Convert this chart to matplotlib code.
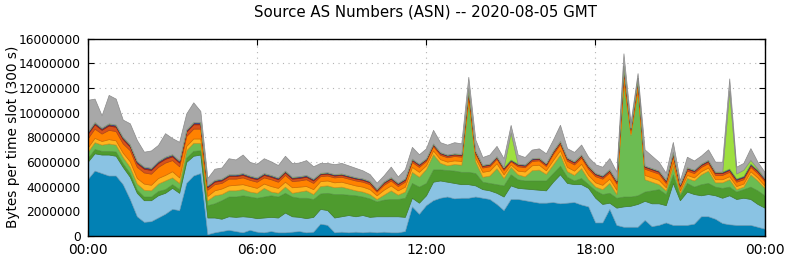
import matplotlib.pyplot as plt
from matplotlib.colors import to_rgb

# 15 minute samples, 00:00 .. 24:00 (hours)
hours = [i / 4 for i in range(97)]

# layer thickness per slot, in millions of bytes, bottom -> top
dark_blue = [4.6, 5.3, 5.1, 4.9, 4.9, 4.2, 3.0, 1.6, 1.15, 1.2, 1.5, 1.8, 2.2, 2.1, 4.3, 4.9, 5.1,
             0.15, 0.3, 0.4, 0.5, 0.4, 0.3, 0.5, 0.35, 0.3, 0.4, 0.3, 0.3, 0.35, 0.4, 0.3, 0.35,
             1.0, 0.9, 0.3, 0.35, 0.3, 0.35, 0.3, 0.35, 0.3, 0.35, 0.3, 0.3, 0.4, 2.4, 1.8,
             2.5, 2.9, 3.1, 3.2, 3.05, 3.1, 3.1, 3.2, 3.1, 3.0, 2.6, 2.1, 3.0, 3.0, 2.9, 2.8, 2.7, 2.7,
             2.75, 2.65, 2.7, 2.75, 2.55, 2.4, 1.1, 1.1, 2.2, 0.9, 0.75, 0.75, 0.75, 1.3, 0.8, 0.9,
             1.1, 0.9, 0.9, 0.9, 1.0, 1.6, 1.6, 1.4, 1.05, 0.95, 0.9, 0.9, 0.9, 0.75, 0.6]
light_blue = [1.4, 1.4, 1.5, 1.7, 1.6, 1.4, 1.8, 1.9, 1.75, 1.7, 1.8, 1.7, 1.7, 1.4, 1.7, 1.6, 1.5,
              1.35, 1.2, 1.0, 1.1, 1.15, 1.3, 1.05, 1.1, 1.2, 1.15, 1.2, 1.6, 1.25, 1.15, 1.15, 1.2,
              1.2, 1.2, 1.2, 1.25, 1.4, 1.25, 1.4, 1.2, 1.3, 1.25, 1.3, 1.3, 1.15, 0.7, 0.9,
              0.8, 1.5, 1.4, 1.2, 1.25, 1.1, 1.1, 0.9, 0.7, 0.7, 0.9, 1.1, 1.1, 0.9, 0.95, 1.0, 1.05, 1.0,
              1.65, 2.35, 1.6, 1.45, 1.65, 1.5, 2.0, 1.5, 0.5, 1.4, 1.65, 1.7, 1.85, 1.55, 1.85, 1.75,
              1.4, 3.4, 2.0, 2.7, 2.4, 1.7, 1.8, 1.9, 2.05, 2.35, 2.1, 2.2, 2.1, 1.85, 1.7]
dark_green = [0.3, 0.35, 0.3, 0.3, 0.35, 0.3, 0.3, 0.25, 0.3, 0.3, 0.35, 0.3, 0.3, 0.3, 0.35, 0.4, 0.35,
              1.0, 1.15, 1.5, 1.6, 1.65, 1.7, 1.65, 1.65, 1.7, 1.75, 1.7, 1.6, 1.6, 1.55, 1.65, 1.45,
              1.25, 1.4, 1.9, 1.8, 1.65, 1.7, 1.5, 1.5, 1.2, 1.35, 1.4, 1.4, 1.55, 1.2, 1.3,
              1.0, 1.0, 0.9, 0.95, 1.0, 1.0, 1.0, 1.0, 0.6, 0.6, 0.7, 0.9, 0.9, 0.7, 0.65, 0.7, 0.75, 0.8,
              0.7, 0.7, 0.5, 0.3, 0.5, 0.3, 0.6, 0.8, 0.8, 0.8, 0.8, 0.75, 0.7, 0.75, 1.05, 1.15,
              0.9, 0.7, 0.4, 0.7, 0.6, 0.9, 0.9, 0.7, 0.8, 0.7, 0.6, 0.7, 1.0, 1.1, 1.0]
mid_green = [0.5, 0.55, 0.5, 0.6, 0.55, 0.5, 0.5, 0.5, 0.55, 0.5, 0.6, 0.7, 0.55, 0.5, 0.6, 0.65, 0.6,
             0.4, 0.65, 0.5, 0.5, 0.5, 0.5, 0.4, 0.4, 0.7, 0.3, 0.3, 0.5, 0.3, 0.5, 0.6, 0.4,
             0.6, 0.6, 0.55, 0.6, 0.5, 0.4, 0.4, 0.35, 0.2, 0.4, 0.7, 0.35, 0.5, 0.9, 0.8,
             1.13, 1.23, 0.53, 0.38, 0.53, 0.58, 5.8, 0.93, 0.4, 0.6, 1.3, 0.6, 0.6, 0.4, 0.33, 0.83, 0.88, 0.53,
             0.7, 0.9, 0.45, 0.45, 0.8, 0.4, 0.3, 0.4, 0.8, 0.3, 9.2, 5.0, 8.5, 1.0, 0.7, 0.4,
             0.3, 0.7, 0.2, 0.4, 0.5, 0.8, 1.0, 0.35, 0.45, 0.6, 0.2, 0.2, 1.0, 0.8, 0.6]
yellow = [0.35, 0.35, 0.3, 0.35, 0.35, 0.35, 0.45, 0.45, 0.5, 0.45, 0.45, 0.45, 0.5, 0.45, 0.35, 0.35, 0.35,
          0.35, 0.4, 0.45, 0.4, 0.45, 0.4, 0.45, 0.4, 0.35, 0.45, 0.4, 0.4, 0.45, 0.4, 0.35, 0.4,
          0.4, 0.4, 0.4, 0.4, 0.4, 0.4, 0.4, 0.4, 0.3, 0.4, 0.4, 0.35, 0.4, 0.4, 0.4,
          0.3, 0.3, 0.3, 0.3, 0.3, 0.3, 0.15, 0.3, 0.4, 0.4, 0.4, 0.3, 0.2, 0.3, 0.4, 0.4, 0.4, 0.3,
          0.35, 0.35, 0.35, 0.35, 0.35, 0.35, 0.35, 0.35, 0.35, 0.35, 0.2, 0.15, 0.1, 0.35, 0.35, 0.35,
          0.25, 0.3, 0.2, 0.25, 0.25, 0.25, 0.25, 0.25, 0.25, 0.25, 0.25, 0.25, 0.25, 0.25, 0.2]
orange = [0.75, 0.75, 0.6, 0.75, 0.75, 0.75, 0.9, 0.9, 0.9, 0.9, 0.9, 1.0, 0.9, 0.9, 0.8, 0.8, 0.8,
          0.5, 0.5, 0.45, 0.55, 0.5, 0.55, 0.5, 0.5, 0.5, 0.55, 0.5, 0.55, 0.5, 0.5, 0.55, 0.5,
          0.4, 0.4, 0.4, 0.4, 0.4, 0.4, 0.4, 0.4, 0.3, 0.4, 0.4, 0.35, 0.4, 0.4, 0.4,
          0.35, 0.35, 0.35, 0.35, 0.35, 0.35, 0.45, 0.35, 0.35, 0.35, 0.35, 0.35, 0.25, 0.35, 0.35, 0.35, 0.35, 0.35,
          0.5, 0.5, 0.5, 0.5, 0.5, 0.5, 0.5, 0.5, 0.5, 0.5, 0.7, 0.25, 0.6, 0.5, 0.5, 0.5,
          0.35, 0.5, 0.3, 0.35, 0.35, 0.35, 0.35, 0.35, 0.35, 0.35, 0.35, 0.35, 0.35, 0.35, 0.35]
red = [0.35, 0.35, 0.3, 0.35, 0.35, 0.35, 0.3, 0.3, 0.3, 0.3, 0.3, 0.3, 0.3, 0.3, 0.35, 0.35, 0.35,
       0.2, 0.2, 0.2, 0.2, 0.2, 0.2, 0.2, 0.2, 0.2, 0.2, 0.2, 0.2, 0.2, 0.2, 0.2, 0.2,
       0.15, 0.15, 0.15, 0.15, 0.15, 0.15, 0.15, 0.15, 0.12, 0.15, 0.15, 0.15, 0.15, 0.15, 0.15,
       0.12, 0.12, 0.12, 0.12, 0.12, 0.12, 0.25, 0.12, 0.12, 0.12, 0.12, 0.12, 0.08, 0.12, 0.12, 0.12, 0.12, 0.12,
       0.15, 0.15, 0.15, 0.15, 0.15, 0.15, 0.15, 0.15, 0.15, 0.15, 0.3, 0.1, 0.2, 0.15, 0.15, 0.15,
       0.15, 0.2, 0.1, 0.15, 0.15, 0.15, 0.15, 0.15, 0.15, 0.15, 0.15, 0.15, 0.15, 0.15, 0.15]
dark_red = [0.1] * 17 + [0.08] * 16 + \
           [0.06, 0.06, 0.06, 0.06, 0.06, 0.06, 0.06, 0.06, 0.05, 0.06, 0.06, 0.06, 0.06, 0.06, 0.06] + \
           [0.05, 0.05, 0.05, 0.05, 0.05, 0.05, 0.1, 0.05, 0.05, 0.05, 0.05, 0.05, 0.04, 0.05, 0.05, 0.05, 0.05, 0.05] + \
           [0.06, 0.06, 0.06, 0.06, 0.06, 0.06, 0.06, 0.06, 0.06, 0.06, 0.15, 0.04, 0.05, 0.06, 0.06, 0.06] + \
           [0.06, 0.06, 0.05, 0.06, 0.06, 0.06, 0.06, 0.06, 0.06, 0.06, 0.06, 0.06, 0.06, 0.06, 0.05]
blue = [0.08] * 17 + [0.07] * 16 + \
       [0.06, 0.06, 0.06, 0.06, 0.06, 0.06, 0.06, 0.06, 0.05, 0.06, 0.06, 0.06, 0.06, 0.06, 0.06] + \
       [0.05, 0.05, 0.05, 0.05, 0.05, 0.05, 0.05, 0.05, 0.05, 0.05, 0.05, 0.05, 0.03, 0.05, 0.05, 0.05, 0.05, 0.05] + \
       [0.05, 0.05, 0.05, 0.05, 0.05, 0.05, 0.05, 0.05, 0.05, 0.05, 0.05, 0.03, 0.05, 0.05, 0.05, 0.05] + \
       [0.06, 0.06, 0.06, 0.06, 0.06, 0.06, 0.06, 0.06, 0.06, 0.06, 0.06, 0.06, 0.06, 0.06, 0.05]
light_green = [0.0] * 60 + [2.2] + [0.0] * 30 + [6.3, 0.4, 0.5, 0.3, 0.1, 0.0]
gray = [2.6, 1.9, 1.0, 2.3, 2.1, 1.4, 1.7, 1.7, 1.2, 1.4, 1.3, 1.9, 1.3, 1.5, 1.3, 1.6, 0.9,
        0.6, 0.9, 0.9, 1.3, 1.2, 1.5, 1.1, 1.1, 1.2, 1.1, 1.0, 1.2, 1.1, 1.1, 1.2, 1.0,
        0.8, 0.75, 0.8, 0.85, 0.8, 0.75, 0.65, 0.55, 0.5, 0.5, 0.85, 0.5, 0.75, 0.95, 0.75,
        0.8, 1.1, 0.8, 0.8, 0.9, 0.85, 0.9, 0.9, 0.63, 0.73, 0.83, 0.73, 0.6, 0.73, 0.6, 0.7, 0.75, 0.8,
        0.9, 1.3, 0.75, 0.75, 0.8, 0.7, 0.7, 0.7, 0.9, 0.7, 1.0, 0.45, 0.4, 1.3, 1.0, 0.7,
        0.55, 0.8, 0.3, 0.85, 0.75, 0.65, 0.85, 0.8, 0.8, 1.0, 0.55, 0.55, 0.95, 0.55, 0.5]

layers = [dark_blue, light_blue, dark_green, mid_green, yellow, orange, red,
          dark_red, blue, light_green, gray]
colors = ['#0281b4', '#8ac3e3', '#4e9b2e', '#6cbc52', '#ffb41e', '#ff8200',
          '#d8521a', '#a5291a', '#3c5aa8', '#9ee03f', '#a8a8a8']

xtick_labels = ['00:00', '06:00', '12:00', '18:00', '00:00']
ytick_values = [0, 2000000, 4000000, 6000000, 8000000, 10000000, 12000000, 14000000, 16000000]

fig = plt.figure(figsize=(7.86, 2.61), dpi=100)
ax = fig.add_axes([87.5 / 786, 25 / 261, 677 / 786, 197.5 / 261])

polys = ax.stackplot(hours, *[[v * 1e6 for v in s] for s in layers], colors=colors, linewidth=0.5)
for p, c in zip(polys, colors):
    p.set_edgecolor(tuple(0.82 * x for x in to_rgb(c)))

ax.set_xlim(0, 24)
ax.set_ylim(0, 16000000)
ax.set_xticks([0, 6, 12, 18, 24])
ax.set_xticklabels(xtick_labels)
ax.set_yticks(ytick_values)
ax.set_yticklabels([str(v) for v in ytick_values])

ax.set_axisbelow(True)
ax.grid(True, color='#b4b4b4', linestyle=(0, (1, 4)), linewidth=0.8)
ax.tick_params(direction='in', length=4.5, width=0.8, top=True, right=True, pad=5)
ax.tick_params(axis='x', labelsize=10)
ax.tick_params(axis='y', labelsize=8.8)
for s in ax.spines.values():
    s.set_linewidth(1.0)

fig.text(426 / 786, 1 - 12 / 261, 'Source AS Numbers (ASN) -- 2020-08-05 GMT',
         ha='center', va='center', fontsize=10.8)
fig.text(13 / 786, 1 - 137 / 261, 'Bytes per time slot (300 s)',
         rotation=90, ha='center', va='center', fontsize=9.8)

fig.savefig('out.png', dpi=100)
